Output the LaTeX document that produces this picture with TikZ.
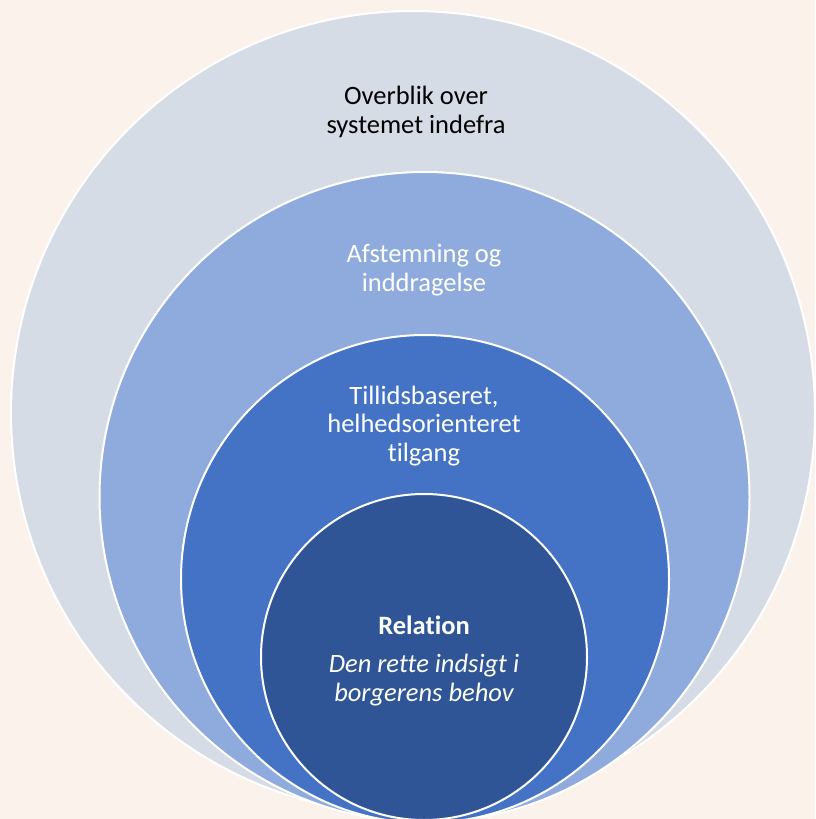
\documentclass[tikz,border=0pt]{standalone}
\usepackage{fontspec}
\setmainfont{Carlito}[Ligatures=NoCommon]
\definecolor{bgpeach}{HTML}{FBF2EC}
\definecolor{ringgrey}{HTML}{D6DCE5}
\definecolor{ringlight}{HTML}{8FAADC}
\definecolor{ringmid}{HTML}{4472C4}
\definecolor{ringdark}{HTML}{2F5597}
\tikzset{
	ring/.style={circle,draw=white,line width=2pt,inner sep=0pt},
	ringtext/.style={align=center,text=white,font=\fontsize{26.5}{28.5}\selectfont}
}

\begin{document}
\begin{tikzpicture}[x=1pt,y=-1pt]
	%frame
	\useasboundingbox (0,0) rectangle (815,819);
	\fill[bgpeach] (0,0) rectangle (815,819);
	\clip (0,0) rectangle (815,819);
	
	%circles
	\node[ring,fill=ringgrey,minimum size=804pt]  (overblik)   at (413,413) {};
	\node[ring,fill=ringlight,minimum size=650pt] (afstemning) at (424.5,497) {};
	\node[ring,fill=ringmid,minimum size=488pt]   (tillid)     at (425,579) {};
	\node[ring,fill=ringdark,minimum size=326pt]  (relation)   at (424,657) {};
	
	%labels
	\node[ringtext,text=black] (overbliktxt)   at (416,112) {Overblik over\\systemet indefra};
	\node[ringtext]            (afstemningtxt) at (424,270) {Afstemning og\\inddragelse};
	\node[ringtext]            (tillidtxt)     at (424,426) {Tillidsbaseret,\\helhedsorienteret\\tilgang};
	\node[ringtext,font=\fontsize{26.5}{28.5}\selectfont\bfseries] (relationtxt) at (424,625) {Relation};
	\node[ringtext,font=\fontsize{26.5}{29}\selectfont\itshape]    (behovtxt)    at (424,680) {Den rette indsigt i\\borgerens behov};
\end{tikzpicture}
\end{document}
